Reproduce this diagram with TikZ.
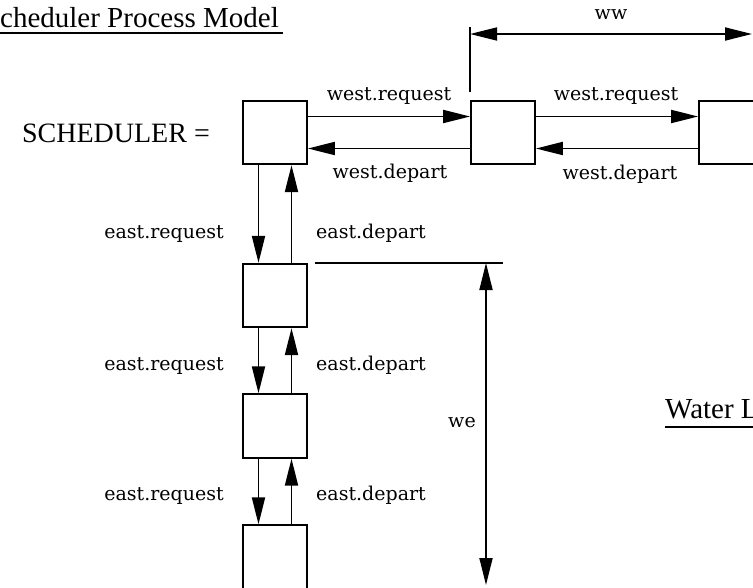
\documentclass[tikz,border=0pt]{standalone}
\usepackage{fontspec}
\setmainfont{Liberation Serif}
\newfontfamily\labelfont{DejaVu Serif}
\usetikzlibrary{arrows.meta}

\tikzset{
  procbox/.style={draw, line width=1.8pt, minimum width=64pt, minimum height=63.5pt, inner sep=0pt},
  tip/.style={},
  arr/.style={line width=1.8pt, -{Triangle[length=27pt,width=13pt]}},
  dimarr/.style={line width=1.8pt, {Triangle[length=27pt,width=13pt]}-{Triangle[length=27pt,width=13pt]}},
  plain/.style={line width=1.8pt},
  lbl/.style={inner sep=0pt, anchor=base, font=\labelfont\fontsize{19}{22}\selectfont},
  title/.style={inner sep=0pt, font=\fontsize{29}{32}\selectfont},
}

\begin{document}
\begin{tikzpicture}[x=1pt, y=-1pt]
  \useasboundingbox (0,0) rectangle (753,587);
  \clip (0,0) rectangle (753,587);

  % headings
  \node[title, anchor=base east] (schedtitle) at (279,27) {Scheduler Process Model};
  \coordinate (ulA) at (0,33);
  \coordinate (ulB) at (283,33);
  \draw[line width=1.8pt] (ulA) -- (ulB);

  \node[title, anchor=base west] (watertitle) at (665,418) {Water L};
  \coordinate (ulC) at (665,427);
  \coordinate (ulD) at (760,427);
  \draw[line width=1.8pt] (ulC) -- (ulD);

  \node[title, font=\fontsize{28}{31}\selectfont, anchor=base east] (schedeq) at (210,142) {SCHEDULER =};

  % process boxes
  \node[procbox] (sched) at (275,132.5) {};
  \node[procbox] (w1) at (503,132.5) {};
  \node[procbox] (w2) at (731,132.5) {};
  \node[procbox] (e1) at (275,295.5) {};
  \node[procbox] (e2) at (275,426) {};
  \node[procbox] (e3) at (275,557) {};

  % westward channels
  \draw[arr] ([yshift=16pt]sched.east) -- ([yshift=16pt]w1.west);
  \draw[arr] ([yshift=-16pt]w1.west) -- ([yshift=-16pt]sched.east);
  \draw[arr] ([yshift=16pt]w1.east) -- ([yshift=16pt]w2.west);
  \draw[arr] ([yshift=-16pt]w2.west) -- ([yshift=-16pt]w1.east);

  \node[lbl] (wr1) at (389,100) {west.request};
  \node[lbl] (wd1) at (390,178) {west.depart};
  \node[lbl] (wr2) at (616,100) {west.request};
  \node[lbl] (wd2) at (620,179) {west.depart};

  % eastward channels
  \foreach \a/\b in {sched/e1, e1/e2, e2/e3}{
    \draw[arr] ([xshift=-16.5pt]\a.south) -- ([xshift=-16.5pt]\b.north);
    \draw[arr] ([xshift=16.5pt]\b.north) -- ([xshift=16.5pt]\a.south);
  }
  \foreach \y [count=\i] in {238,370,500}{
    \node[lbl] (er\i) at (164,\y) {east.request};
    \node[lbl] (ed\i) at (371,\y) {east.depart};
  }

  % ww dimension
  \coordinate (wwtick) at (w1.west |- 0,27);
  \coordinate (wwtickend) at (w1.west |- 0,92);
  \coordinate (wwL) at (w1.west |- 0,34);
  \coordinate (wwR) at (752,34);
  \draw[plain] (wwtick) -- (wwtickend);
  \draw[dimarr] (wwL) -- (wwR);
  \node[lbl] (wwlbl) at (611,19) {ww};

  % we dimension
  \coordinate (weA) at (315,263);
  \coordinate (weB) at (503,263);
  \coordinate (weTop) at (486,263);
  \coordinate (weBot) at (486,585);
  \draw[plain] (weA) -- (weB);
  \draw[dimarr] (weTop) -- (weBot);
  \node[lbl] (welbl) at (462,427) {we};
\end{tikzpicture}
\end{document}
